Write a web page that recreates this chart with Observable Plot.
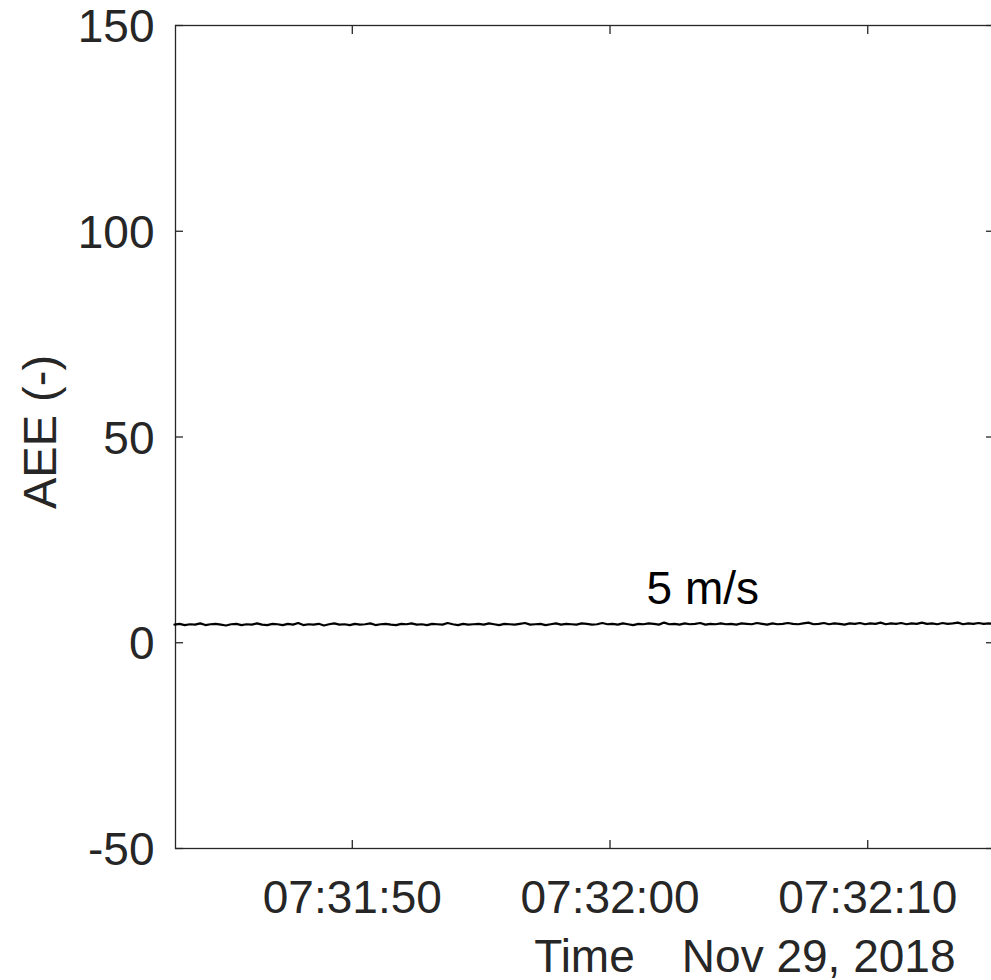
<!DOCTYPE html>
<html>
<head>
<meta charset="utf-8">
<script src="https://cdn.jsdelivr.net/npm/d3@7"></script>
<script src="https://cdn.jsdelivr.net/npm/@observablehq/plot@0.6"></script>
<style>
  html, body { margin: 0; padding: 0; background: #fff; overflow: hidden; }
  #chart svg { display: block; }
</style>
</head>
<body>
<div id="chart"></div>
<script>
// ---- data ----
const seriesName = "5 m/s";
const startTime = "2018-11-29T07:31:43.100Z";
const samplePeriodMs = 200;
const aeeValues = [
  4.4,4.6,4.3,4.5,4.4,4.7,4.3,4.5,4.6,4.4,4.2,4.5,4.6,4.3,4.5,4.4,4.7,4.4,4.3,4.6,
  4.5,4.3,4.6,4.4,4.8,4.3,4.5,4.4,4.6,4.2,4.5,4.7,4.4,4.5,4.3,4.6,4.4,4.5,4.7,4.3,
  4.5,4.6,4.4,4.3,4.6,4.5,4.7,4.4,4.5,4.3,4.6,4.5,4.4,4.8,4.5,4.3,4.6,4.4,4.5,4.6,
  4.4,4.7,4.5,4.3,4.6,4.5,4.4,4.6,4.8,4.4,4.5,4.6,4.3,4.5,4.7,4.4,4.6,4.5,4.4,4.7,
  4.6,4.4,4.5,4.8,4.5,4.6,4.4,4.7,4.5,4.3,4.6,4.5,4.7,4.6,4.4,4.9,4.5,4.6,4.4,4.7,
  4.5,4.6,4.8,4.4,4.6,4.5,4.7,4.5,4.6,4.4,4.7,4.6,4.5,4.8,4.6,4.4,4.7,4.5,4.6,4.8,
  4.6,4.5,4.7,4.9,4.5,4.6,4.8,4.5,4.7,4.6,4.4,4.7,4.6,4.8,4.5,4.7,4.6,4.9,4.5,4.7,
  4.6,4.8,4.5,4.7,4.6,4.9,4.6,4.7,4.5,4.8,4.6,4.7,4.9,4.5,4.7,4.6,4.8,4.6,4.7,4.6
];
const xDomain = ["2018-11-29T07:31:43.140Z", "2018-11-29T07:32:14.880Z"];
const yDomain = [-50, 150];
const xTickLabels = ["07:31:50", "07:32:00", "07:32:10"];
const yTicks = [-50, 0, 50, 100, 150];
const xAxisTitle = "Time";
const dateLabel = "Nov 29, 2018";
const yAxisTitle = "AEE (-)";
const annotation = [{time: "2018-11-29T07:32:03.600Z", value: 9.5, text: seriesName}];

// ---- build ----
const t0 = new Date(startTime).getTime();
const rows = aeeValues.map((v, i) => ({time: new Date(t0 + i * samplePeriodMs), value: v}));
const xTicks = xTickLabels.map(s => new Date(`2018-11-29T${s}.000Z`));
const fmt = d3.utcFormat("%H:%M:%S");
const ink = "#262626";
const font = "'Liberation Sans', Arial, Helvetica, sans-serif";

const chart = Plot.plot({
  width: 991,
  height: 980,
  marginLeft: 175,
  marginRight: -2,
  marginTop: 25,
  marginBottom: 132,
  style: {fontFamily: font, fontSize: "46px", color: ink, background: "#fff"},
  x: {type: "utc", domain: xDomain.map(d => new Date(d))},
  y: {domain: yDomain},
  marks: [
    Plot.frame({stroke: ink, strokeWidth: 1.3}),
    // inward ticks on all four sides
    Plot.axisX({anchor: "bottom", ticks: xTicks, tickSize: -8, text: null, stroke: ink, strokeWidth: 1.3, label: null}),
    Plot.axisX({anchor: "top", ticks: xTicks, tickSize: -8, text: null, stroke: ink, strokeWidth: 1.3, label: null}),
    Plot.axisY({anchor: "left", ticks: yTicks, tickSize: -8, text: null, stroke: ink, strokeWidth: 1.3, label: null}),
    Plot.axisY({anchor: "right", ticks: yTicks, tickSize: -8, text: null, stroke: ink, strokeWidth: 1.3, label: null}),
    // tick labels
    Plot.axisX({anchor: "bottom", ticks: xTicks, tickSize: 0, tickPadding: 32, tickFormat: fmt, fill: ink, label: null, fontSize: 46}),
    Plot.axisY({anchor: "left", ticks: yTicks, tickSize: 0, tickPadding: 21, dy: 2, tickFormat: d => String(d), fill: ink, label: null, fontSize: 46}),
    // the series
    Plot.line(rows, {x: "time", y: "value", stroke: "#000", strokeWidth: 2.2}),
    Plot.text(annotation, {x: d => new Date(d.time), y: "value", text: "text", fill: "#000", fontSize: 46, textAnchor: "middle", lineAnchor: "bottom"}),
    // titles
    Plot.text([xAxisTitle], {frameAnchor: "bottom", dy: 123, fill: ink, fontSize: 46, textAnchor: "middle", lineAnchor: "bottom"}),
    Plot.text([dateLabel], {frameAnchor: "bottom-right", dx: -38, dy: 123, fill: ink, fontSize: 46, textAnchor: "end", lineAnchor: "bottom"}),
    Plot.text([yAxisTitle], {frameAnchor: "left", dx: -120, dy: -5, rotate: -90, fill: ink, fontSize: 47, textAnchor: "middle", lineAnchor: "bottom"})
  ]
});
document.getElementById("chart").appendChild(chart);
</script>
</body>
</html>
